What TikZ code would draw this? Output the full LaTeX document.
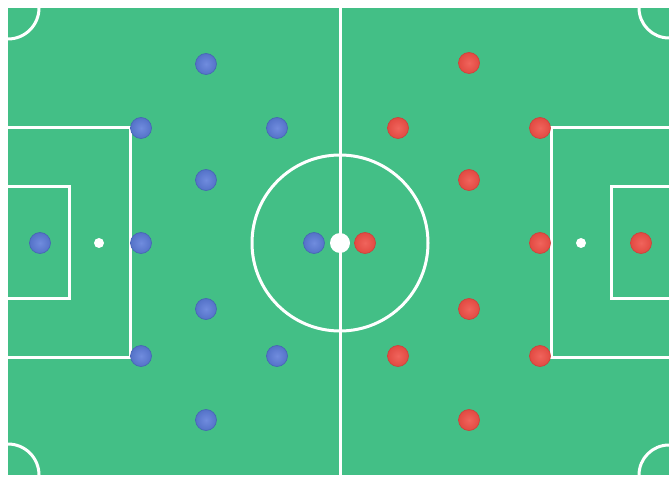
\documentclass[tikz,border=0pt]{standalone}
\begin{document}
\begin{tikzpicture}[x=1pt,y=-1pt,
  line/.style={white,line width=3pt},
  blueplayer/.style={circle,minimum size=21pt,inner sep=0pt,inner color=bluehi,outer color=blueb,draw=bluee,line width=0.6pt},
  redplayer/.style={circle,minimum size=21pt,inner sep=0pt,inner color=redhi,outer color=redb,draw=rede,line width=0.6pt},
  spot/.style={circle,fill=white,inner sep=0pt}]
\definecolor{pitch}{RGB}{67,191,134}
\definecolor{blueb}{RGB}{84,114,200}
\definecolor{bluehi}{RGB}{112,140,222}
\definecolor{bluee}{RGB}{70,100,180}
\definecolor{redb}{RGB}{226,74,66}
\definecolor{redhi}{RGB}{240,100,92}
\definecolor{rede}{RGB}{205,64,58}
\useasboundingbox (0,0) rectangle (669,478);
\fill[white] (0,0) rectangle (669,478);
\fill[pitch] (8,8) rectangle (669,475);
\begin{scope}
\clip (8,8) rectangle (669,475);
% corner arcs
\draw[line] (8,8) circle (31);
\draw[line] (669,8) circle (30);
\draw[line] (8,475) circle (31);
\draw[line] (669,475) circle (30);
% midline
\draw[line] (340,8) -- (340,475);
% centre circle
\draw[line] (340,243) circle (88);
% left boxes
\draw[line] (0,128) -- (130,128) -- (130,357) -- (0,357);
\draw[line] (0,187) -- (69,187) -- (69,298) -- (0,298);
% right boxes
\draw[line] (680,128) -- (551,128) -- (551,357) -- (680,357);
\draw[line] (680,187) -- (611,187) -- (611,298) -- (680,298);
\end{scope}
\node[spot,minimum size=20pt] (cs) at (340,243) {};
\node[spot,minimum size=10pt] (lps) at (99,243) {};
\node[spot,minimum size=10pt] (rps) at (581,243) {};
% blue team
\node[blueplayer] (b1) at (40,243) {};
\node[blueplayer] (b2) at (141,128) {};
\node[blueplayer] (b3) at (141,243) {};
\node[blueplayer] (b4) at (141,356) {};
\node[blueplayer] (b5) at (206,64) {};
\node[blueplayer] (b6) at (206,180) {};
\node[blueplayer] (b7) at (206,309) {};
\node[blueplayer] (b8) at (206,420) {};
\node[blueplayer] (b9) at (277,128) {};
\node[blueplayer] (b10) at (277,356) {};
\node[blueplayer] (b11) at (314,243) {};
% red team
\node[redplayer] (r1) at (641,243) {};
\node[redplayer] (r2) at (540,128) {};
\node[redplayer] (r3) at (540,243) {};
\node[redplayer] (r4) at (540,356) {};
\node[redplayer] (r5) at (469,63) {};
\node[redplayer] (r6) at (469,180) {};
\node[redplayer] (r7) at (469,309) {};
\node[redplayer] (r8) at (469,420) {};
\node[redplayer] (r9) at (398,128) {};
\node[redplayer] (r10) at (398,356) {};
\node[redplayer] (r11) at (365,243) {};
\end{tikzpicture}
\end{document}
